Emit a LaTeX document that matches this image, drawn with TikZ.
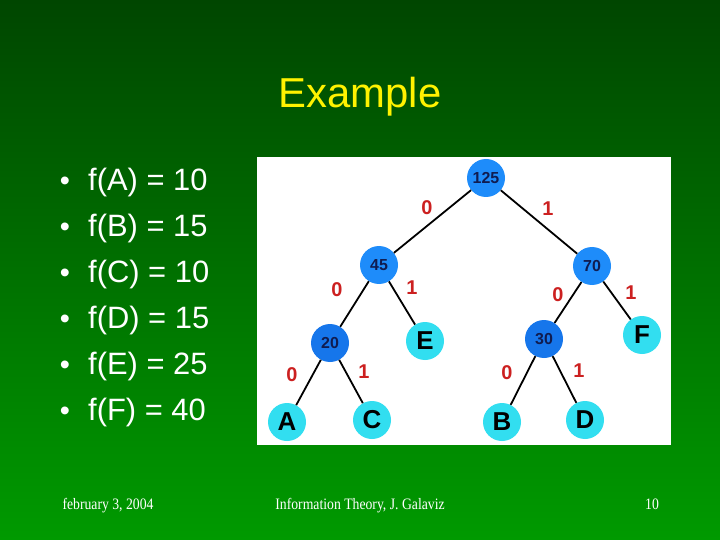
\documentclass[tikz,border=0pt]{standalone}
\usepackage{fontspec}
\setmainfont{Liberation Sans}
\newfontfamily\footfont[FakeStretch=0.86]{Liberation Serif}
\usetikzlibrary{positioning}
\definecolor{bgtop}{RGB}{0,70,0}
\definecolor{bgbot}{RGB}{0,154,0}
\definecolor{inblue}{RGB}{30,140,250}
\definecolor{lowblue}{RGB}{22,118,235}
\definecolor{leafcyan}{RGB}{50,222,240}
\definecolor{numnavy}{RGB}{16,28,80}
\definecolor{bitred}{RGB}{204,32,32}

\begin{document}
\begin{tikzpicture}[x=1bp,y=-1bp,
 inner/.style={circle,fill=inblue,minimum size=38bp,inner sep=0pt,text=numnavy,font=\fontsize{16}{16}\selectfont\bfseries},
 leaf/.style={circle,fill=leafcyan,minimum size=38bp,inner sep=0pt,font=\fontsize{26}{26}\selectfont\bfseries},
 bit/.style={text=bitred,font=\fontsize{20}{20}\selectfont\bfseries},
 dot/.style={text=white,anchor=base,inner sep=0pt,font=\fontsize{29}{29}\selectfont},
 item/.style={text=white,anchor=base west,inner sep=0pt,font=\fontsize{31}{31}\selectfont},
 foot/.style={text=white,anchor=base,font=\footfont\fontsize{16}{16}\selectfont}]
\useasboundingbox (0,0) rectangle (720,540);
\shade[top color=bgtop,bottom color=bgbot] (0,0) rectangle (720,540);
\node[text=yellow,anchor=base,font=\fontsize{42}{42}\selectfont] (title) at (360,108) {Example};
% frequencies
\node[dot] (d1) at (65,191) {\textbullet}; \node[item] (f1) at (88,191) {f(A) = 10};
\node[dot] (d2) at (65,237) {\textbullet}; \node[item] (f2) at (88,237) {f(B) = 15};
\node[dot] (d3) at (65,283) {\textbullet}; \node[item] (f3) at (88,283) {f(C) = 10};
\node[dot] (d4) at (65,328) {\textbullet}; \node[item] (f4) at (88,328) {f(D) = 15};
\node[dot] (d5) at (65,374) {\textbullet}; \node[item] (f5) at (88,374) {f(E) = 25};
\node[dot] (d6) at (65,420) {\textbullet}; \node[item] (f6) at (88,420) {f(F) = 40};
% tree
\fill[white] (257,157) rectangle (671,445);
\node[inner] (n125) at (486,178) {125};
\node[inner] (n45) at (379,265) {45};
\node[inner] (n70) at (592,266) {70};
\node[inner,fill=lowblue] (n20) at (330,343) {20};
\node[inner,fill=lowblue] (n30) at (544,339) {30};
\node[leaf] (nE) at (425,341) {E};
\node[leaf] (nF) at (642,335) {F};
\node[leaf] (nA) at (287,422) {A};
\node[leaf] (nC) at (372,420) {C};
\node[leaf] (nB) at (502,422) {B};
\node[leaf] (nD) at (585,420) {D};
\draw[line width=1.8bp] (n125) -- (n45); \draw[line width=1.8bp] (n125) -- (n70);
\draw[line width=1.8bp] (n45) -- (n20); \draw[line width=1.8bp] (n45) -- (nE);
\draw[line width=1.8bp] (n70) -- (n30); \draw[line width=1.8bp] (n70) -- (nF);
\draw[line width=1.8bp] (n20) -- (nA); \draw[line width=1.8bp] (n20) -- (nC);
\draw[line width=1.8bp] (n30) -- (nB); \draw[line width=1.8bp] (n30) -- (nD);
\node[bit] (b1) at (427,208) {0}; \node[bit] (b2) at (548,209) {1};
\node[bit] (b3) at (337,290) {0}; \node[bit] (b4) at (412,288) {1};
\node[bit] (b5) at (558,295) {0}; \node[bit] (b6) at (631,293) {1};
\node[bit] (b7) at (292,375) {0}; \node[bit] (b8) at (364,372) {1};
\node[bit] (b9) at (507,373) {0}; \node[bit] (b10) at (579,371) {1};
% footer
\node[foot] (date) at (108,509) {february 3, 2004};
\node[foot] (course) at (360,509) {Information Theory, J. Galaviz};
\node[foot] (page) at (652,509) {10};
\end{tikzpicture}
\end{document}
